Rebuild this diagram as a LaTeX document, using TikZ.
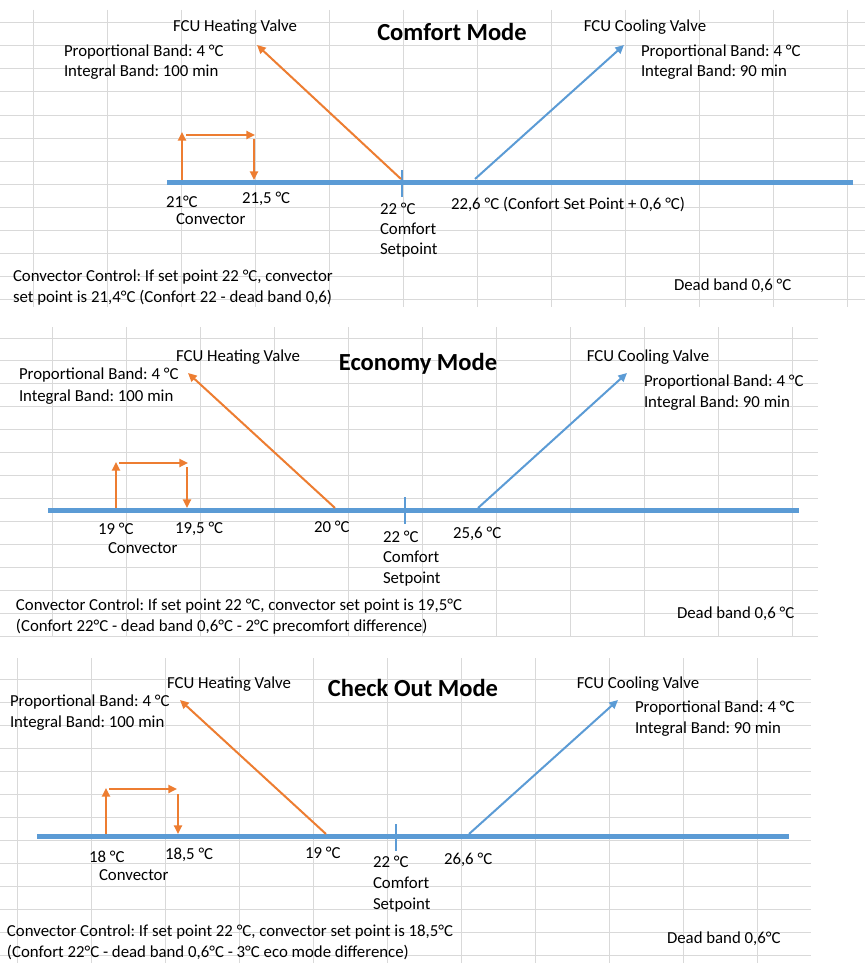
\documentclass[tikz,border=0pt]{standalone}
\usepackage{fontspec}
\setmainfont{Carlito}
\frenchspacing
\usetikzlibrary{arrows.meta}
\definecolor{gridc}{HTML}{D9D9D9}
\definecolor{axisblue}{HTML}{5B9BD5}
\definecolor{heatorange}{HTML}{ED7D31}
\tikzset{
  grid line/.style={draw=gridc, line width=0.75pt},
  axis/.style={draw=axisblue, line width=3.75pt},
  tickmark/.style={draw=axisblue, line width=2.2pt},
  heatarrow/.style={draw=heatorange, line width=1.5pt, -{Triangle[length=6.5pt,width=6pt]}},
  coolarrow/.style={draw=axisblue, line width=1.5pt, -{Triangle[length=6.5pt,width=6pt]}},
  convarrow/.style={draw=heatorange, line width=1.7pt, -{Triangle[length=6.5pt,width=6pt]}},
  txt/.style={inner sep=0pt, outer sep=0pt, anchor=base west, font=\fontsize{12.6}{15.5}\selectfont},
  ctxt/.style={txt, anchor=base},
  ttl/.style={inner sep=0pt, anchor=base, font=\fontsize{18.4}{22}\selectfont\bfseries}
}
\begin{document}
\begin{tikzpicture}[x=0.75pt, y=-0.75pt]
\useasboundingbox (0,0) rectangle (865,974);
\fill[white] (0,0) rectangle (865,974);
% ---------- grids ----------
\foreach \k in {0,...,12} \draw[grid line] (0,{23+23*\k}) -- (865,{23+23*\k});
\foreach \k in {0,...,11} \draw[grid line] ({33+74*\k},10) -- ({33+74*\k},307);
\foreach \k in {0,...,13} \draw[grid line] (0,{338+22.95*\k}) -- (818,{338+22.95*\k});
\foreach \k in {0,...,10} \draw[grid line] ({52+74*\k},327) -- ({52+74*\k},637);
\foreach \k in {0,...,12} \draw[grid line] (0,{679+23*\k}) -- (811,{679+23*\k});
\foreach \k in {0,...,10} \draw[grid line] ({17+74*\k},658) -- ({17+74*\k},963);

% ================= Panel 1: Comfort =================
\node[ttl] (t1) at (452,41) {Comfort Mode};
\coordinate (a1l) at (167,182); \coordinate (a1r) at (853,182);
\draw[axis] (a1l) -- (a1r);
\coordinate (k1t) at (402,170); \coordinate (k1b) at (402,197);
\draw[tickmark] (k1t) -- (k1b);
\coordinate (h1s) at (401,179); \coordinate (h1e) at (257,45);
\draw[heatarrow] (h1s) -- (h1e);
\coordinate (c1s) at (475,179); \coordinate (c1e) at (624,45);
\draw[coolarrow] (c1s) -- (c1e);
\coordinate (v1a) at (182,180); \coordinate (v1b) at (182,132);
\coordinate (v1c) at (186,135); \coordinate (v1d) at (255,135);
\coordinate (v1e) at (254,139); \coordinate (v1f) at (254,180);
\draw[convarrow] (v1a) -- (v1b);
\draw[convarrow] (v1c) -- (v1d);
\draw[convarrow] (v1e) -- (v1f);
\node[ctxt] (hv1) at (235,32) {FCU Heating Valve};
\node[txt] (hp1) at (64,57) {Proportional Band: 4 °C};
\node[txt] (hi1) at (64,77) {Integral Band: 100 min};
\node[ctxt] (cv1) at (645,32) {FCU Cooling Valve};
\node[txt] (cp1) at (641,57) {Proportional Band: 4 °C};
\node[txt] (ci1) at (641,77) {Integral Band: 90 min};
\node[txt] (l1a) at (166,207) {21°C};
\node[txt] (l1b) at (242,203) {21,5 °C};
\node[txt] (l1c) at (176,224) {Convector};
\node[txt] (l1d) at (380,214) {22 °C};
\node[txt] (l1e) at (380,234) {Comfort};
\node[txt] (l1f) at (380,254) {Setpoint};
\node[txt] (l1g) at (451,209) {22,6 °C (Confort Set Point + 0,6 °C)};
\node[txt] (cc1a) at (13,281) {Convector Control: If set point 22 °C, convector};
\node[txt] (cc1b) at (13,302) {set point is 21,4°C (Confort 22 - dead band 0,6)};
\node[txt] (db1) at (674,290) {Dead band 0,6 °C};

% ================= Panel 2: Economy =================
\node[ttl] (t2) at (418,370) {Economy Mode};
\coordinate (a2l) at (48,510); \coordinate (a2r) at (799,510);
\draw[axis] (a2l) -- (a2r);
\coordinate (k2t) at (405,497); \coordinate (k2b) at (405,524);
\draw[tickmark] (k2t) -- (k2b);
\coordinate (h2s) at (335,508); \coordinate (h2e) at (188,373);
\draw[heatarrow] (h2s) -- (h2e);
\coordinate (c2s) at (478,508); \coordinate (c2e) at (627,373);
\draw[coolarrow] (c2s) -- (c2e);
\coordinate (v2a) at (116,508); \coordinate (v2b) at (116,462);
\coordinate (v2c) at (119,463); \coordinate (v2d) at (188,463);
\coordinate (v2e) at (187,467); \coordinate (v2f) at (187,508);
\draw[convarrow] (v2a) -- (v2b);
\draw[convarrow] (v2c) -- (v2d);
\draw[convarrow] (v2e) -- (v2f);
\node[ctxt] (hv2) at (238,361) {FCU Heating Valve};
\node[txt] (hp2) at (19,379) {Proportional Band: 4 °C};
\node[txt] (hi2) at (19,401) {Integral Band: 100 min};
\node[ctxt] (cv2) at (648,361) {FCU Cooling Valve};
\node[txt] (cp2) at (644,386) {Proportional Band: 4 °C};
\node[txt] (ci2) at (644,407) {Integral Band: 90 min};
\node[txt] (l2a) at (98,534) {19 °C};
\node[txt] (l2b) at (175,533) {19,5 °C};
\node[txt] (l2c) at (108,553) {Convector};
\node[txt] (l2h) at (314,532) {20 °C};
\node[txt] (l2d) at (383,542) {22 °C};
\node[txt] (l2e) at (383,562) {Comfort};
\node[txt] (l2f) at (383,583) {Setpoint};
\node[txt] (l2g) at (453,538) {25,6 °C};
\node[txt] (cc2a) at (16,610) {Convector Control: If set point 22 °C, convector set point is 19,5°C};
\node[txt] (cc2b) at (16,631) {(Confort 22°C - dead band 0,6°C - 2°C precomfort difference)};
\node[txt] (db2) at (677,618) {Dead band 0,6 °C};

% ================= Panel 3: Check Out =================
\node[ttl] (t3) at (413,696) {Check Out Mode};
\coordinate (a3l) at (37,836); \coordinate (a3r) at (789,836);
\draw[axis] (a3l) -- (a3r);
\coordinate (k3t) at (396,824); \coordinate (k3b) at (396,851);
\draw[tickmark] (k3t) -- (k3b);
\coordinate (h3s) at (326,834); \coordinate (h3e) at (180,700);
\draw[heatarrow] (h3s) -- (h3e);
\coordinate (c3s) at (469,834); \coordinate (c3e) at (618,700);
\draw[coolarrow] (c3s) -- (c3e);
\coordinate (v3a) at (106,834); \coordinate (v3b) at (106,788);
\coordinate (v3c) at (109,789); \coordinate (v3d) at (177,789);
\coordinate (v3e) at (178,794); \coordinate (v3f) at (178,834);
\draw[convarrow] (v3a) -- (v3b);
\draw[convarrow] (v3c) -- (v3d);
\draw[convarrow] (v3e) -- (v3f);
\node[ctxt] (hv3) at (229,688) {FCU Heating Valve};
\node[txt] (hp3) at (10,706) {Proportional Band: 4 °C};
\node[txt] (hi3) at (10,727) {Integral Band: 100 min};
\node[ctxt] (cv3) at (638,688) {FCU Cooling Valve};
\node[txt] (cp3) at (635,712) {Proportional Band: 4 °C};
\node[txt] (ci3) at (635,733) {Integral Band: 90 min};
\node[txt] (l3a) at (89,862) {18 °C};
\node[txt] (l3b) at (165,859) {18,5 °C};
\node[txt] (l3c) at (99,880) {Convector};
\node[txt] (l3h) at (305,858) {19 °C};
\node[txt] (l3d) at (373,867) {22 °C};
\node[txt] (l3e) at (373,888) {Comfort};
\node[txt] (l3f) at (373,909) {Setpoint};
\node[txt] (l3g) at (444,864) {26,6 °C};
\node[txt] (cc3a) at (7,936) {Convector Control: If set point 22 °C, convector set point is 18,5°C};
\node[txt] (cc3b) at (7,957) {(Confort 22°C - dead band 0,6°C - 3°C eco mode difference)};
\node[txt] (db3) at (667,943) {Dead band 0,6°C};
\end{tikzpicture}
\end{document}
